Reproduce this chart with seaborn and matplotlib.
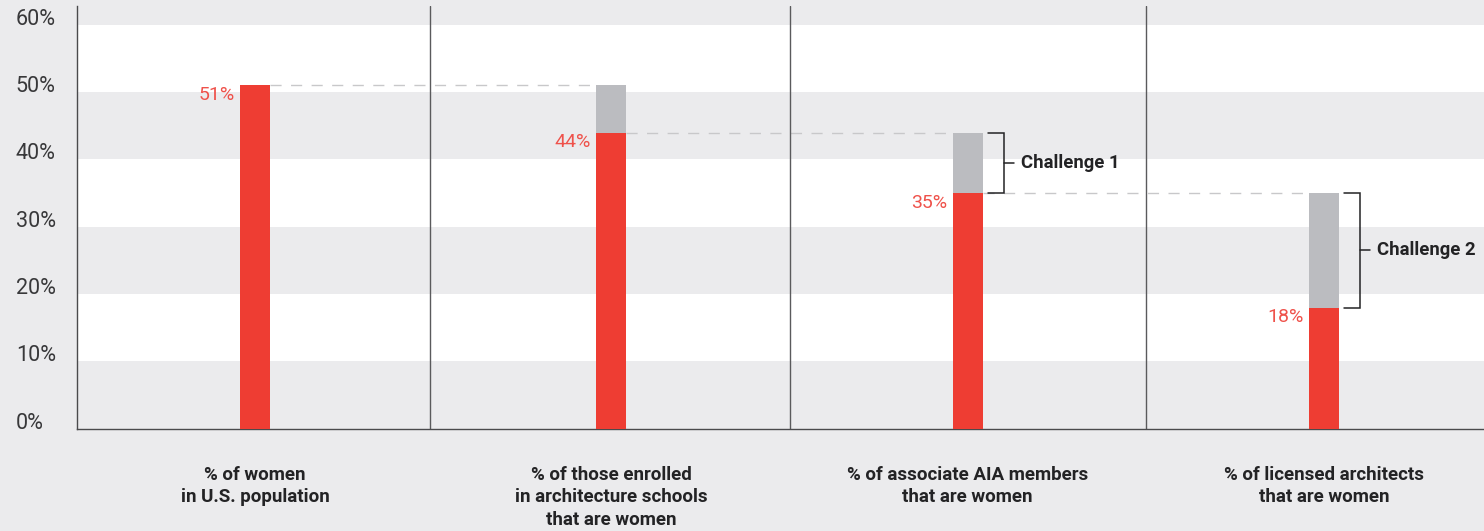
import numpy as np
import matplotlib
matplotlib.use("Agg")
import matplotlib.pyplot as plt
import seaborn as sns

# Pipeline stages and the share of women at each stage (%)
categories = [
    "% of women\nin U.S. population",
    "% of those enrolled\nin architecture schools\nthat are women",
    "% of associate AIA members\nthat are women",
    "% of licensed architects\nthat are women",
]
women_share = [51, 44, 35, 18]
# Share at the preceding stage (the first stage is its own reference)
prior_share = [51, 51, 44, 35]
value_labels = ["51%", "44%", "35%", "18%"]

y_ticks = [0, 10, 20, 30, 40, 50, 60]
y_tick_labels = ["0%", "10%", "20%", "30%", "40%", "50%", "60%"]

challenges = [
    (2, 44, 35, "Challenge 1"),
    (3, 35, 18, "Challenge 2"),
]

RED = "#EE3D33"
RED_TEXT = "#EF524B"
GREY_BAR = "#BBBCC0"
BG = "#EBEBED"
DARK = "#232325"
AXIS = "#4A4A4C"
DASH = "#C8C8CA"

sns.set_style("white")
plt.rcParams["font.family"] = ["Roboto", "DejaVu Sans"]

W, H = 1484, 531
fig = plt.figure(figsize=(W / 100, H / 100), dpi=100, facecolor=BG)
ax = fig.add_axes([77 / W, 102.3 / H, 1 - 77 / W, (428.7 - 6) / H])
ax.set_facecolor(BG)

bar_w = 0.084
sns.barplot(x=categories, y=prior_share, color=GREY_BAR, width=bar_w,
            saturation=1, ax=ax, zorder=3, errorbar=None, linewidth=0)
sns.barplot(x=categories, y=women_share, color=RED, width=bar_w,
            saturation=1, ax=ax, zorder=4, errorbar=None, linewidth=0)

ax.set_xlim(-0.5, 3.449)
ax.set_ylim(0, 62.8)

# Alternating white bands
for lo in (10, 30, 50):
    ax.axhspan(lo, lo + 10, color="white", zorder=0, lw=0)

# Column separators
for xs in (0.49, 1.5, 2.5):
    ax.axvline(xs, color="#5A5A5C", lw=1.0, zorder=2)

# Dashed connectors between consecutive stages
for i in range(len(women_share) - 1):
    ax.plot([i + bar_w / 2, i + 1 - bar_w / 2], [women_share[i]] * 2,
            color=DASH, lw=1.0, ls=(0, (8, 6.8)), zorder=1.5)

# Value labels left of each bar
for i, (v, lab) in enumerate(zip(women_share, value_labels)):
    ax.annotate(lab, (i - bar_w / 2, v), xytext=(-4, -7),
                textcoords="offset points", ha="right", va="center",
                color=RED_TEXT, fontsize=14, zorder=5)

# Brackets marking the drop between stages
for i, top, bot, label in challenges:
    xr = i + bar_w / 2
    x0, x1, x2 = xr + 0.015, xr + 0.06, xr + 0.087
    ax.plot([x0, x1, x1, x0], [top, top, bot, bot], color=DARK, lw=1.1,
            zorder=5, solid_joinstyle="miter")
    mid = (top + bot) / 2
    ax.plot([x1, x2], [mid, mid], color=DARK, lw=1.1, zorder=5)
    ax.text(xr + 0.108, mid, label, ha="left", va="center", color=DARK,
            fontsize=13.3, fontweight="bold", zorder=5, clip_on=False)

# Axes styling
for side in ("top", "right"):
    ax.spines[side].set_visible(False)
for side in ("left", "bottom"):
    ax.spines[side].set_color(AXIS)
    ax.spines[side].set_linewidth(1.0)

ax.set_yticks(y_ticks)
ax.set_yticklabels(y_tick_labels)
ax.tick_params(axis="y", length=0, pad=44, labelsize=15.5, labelcolor="#38383A")
for t in ax.get_yticklabels():
    t.set_horizontalalignment("left")
    t.set_verticalalignment("baseline")

ax.tick_params(axis="x", length=0, pad=27, labelsize=13.5, labelcolor=DARK)
for t in ax.get_xticklabels():
    t.set_fontweight("bold")
    t.set_linespacing(1.3)

ax.set_xlabel("")
ax.set_ylabel("")

fig.savefig("out.png", dpi=100, facecolor=BG)
